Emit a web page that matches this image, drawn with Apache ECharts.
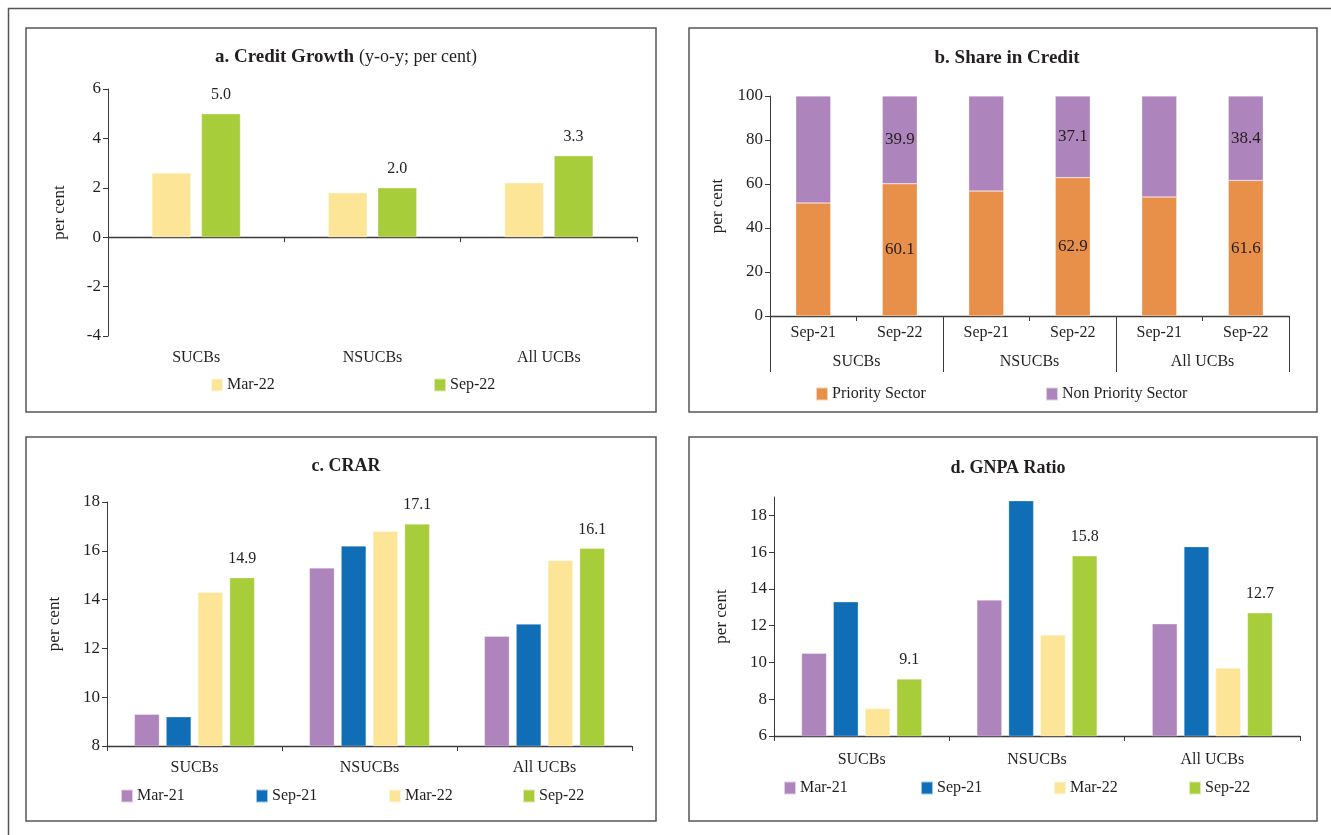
<!DOCTYPE html>
<html>
<head>
<meta charset="utf-8">
<script src="https://cdn.jsdelivr.net/npm/echarts@6/dist/echarts.min.js"></script>
<style>
html,body{margin:0;padding:0;background:#fff;}
#c{width:1331px;height:835px;}
</style>
</head>
<body>
<div id="c"></div>
<script>
// ---- data ----
const groups = ['SUCBs', 'NSUCBs', 'All UCBs'];
const creditMar22 = [2.6, 1.8, 2.2];
const creditSep22 = [5.0, 2.0, 3.3];

const shareCats = ['Sep-21', 'Sep-22', 'Sep-21', 'Sep-22', 'Sep-21', 'Sep-22'];
const priority = [51.4, 60.1, 56.8, 62.9, 54.1, 61.6];
const nonPriority = [48.6, 39.9, 43.2, 37.1, 45.9, 38.4];

const crarMar21 = [9.3, 15.3, 12.5];
const crarSep21 = [9.2, 16.2, 13.0];
const crarMar22 = [14.3, 16.8, 15.6];
const crarSep22 = [14.9, 17.1, 16.1];

const gnpaMar21 = [10.5, 13.4, 12.1];
const gnpaSep21 = [13.3, 18.8, 16.3];
const gnpaMar22 = [7.5, 11.5, 9.7];
const gnpaSep22 = [9.1, 15.8, 12.7];

// ---- styles ----
const FONT = 'Liberation Serif';
const TXT = '#231f20';
const AX = '#3a3a3a';
const C = {mar21: '#ae84bc', sep21: '#106eb6', mar22: '#fde598', sep22: '#a8cd3a', pri: '#e88f4a', non: '#ae84bc'};

const chart = echarts.init(document.getElementById('c'), null, {renderer: 'canvas'});

function yAx(grid, min, max, interval, gap) {
  return {
    type: 'value', gridIndex: grid, min: min, max: max, interval: interval,
    axisLine: {show: true, lineStyle: {color: AX, width: 1}},
    axisTick: {show: true, length: 5, lineStyle: {color: AX}},
    axisLabel: {fontFamily: FONT, fontSize: 17, color: TXT, margin: 7, showMaxLabel: max % interval === 0},
    splitLine: {show: false},
    name: 'per cent', nameLocation: 'middle', nameRotate: 90, nameGap: gap,
    nameTextStyle: {fontFamily: FONT, fontSize: 17, color: TXT}
  };
}
function xLine(grid) {
  return {
    type: 'category', gridIndex: grid, data: groups,
    axisLine: {show: true, onZero: true, lineStyle: {color: AX, width: 1.3}},
    axisTick: {show: true, length: 5, inside: false, lineStyle: {color: AX}},
    axisLabel: {show: false}
  };
}
function xLab(grid, margin) {
  return {
    type: 'category', gridIndex: grid, data: groups, position: 'bottom',
    axisLine: {show: false, onZero: false}, axisTick: {show: false},
    axisLabel: {show: true, fontFamily: FONT, fontSize: 16, color: TXT, margin: margin}
  };
}
function topLabel() {
  return {show: true, position: 'top', distance: 11, fontFamily: FONT, fontSize: 16, color: TXT,
    formatter: p => p.value.toFixed(1)};
}
function bar(name, data, color, xi, yi, width, labelOn) {
  return {
    type: 'bar', name: name, data: data, xAxisIndex: xi, yAxisIndex: yi,
    barWidth: width, barGap: '27%',
    itemStyle: {color: color, borderColor: 'rgba(255,255,255,0.6)', borderWidth: 0.5},
    label: labelOn ? topLabel() : {show: false},
    emphasis: {disabled: true}, animation: false
  };
}
function leg(name, left, top) {
  return {
    data: [name], left: left, top: top, icon: 'rect', itemWidth: 12, itemHeight: 13, itemGap: 5,
    textStyle: {fontFamily: FONT, fontSize: 16, color: TXT, padding: [0, 0, 0, -1]},
    selectedMode: false
  };
}

const option = {
  backgroundColor: '#fff',
  animation: false,
  title: [
    {text: '{b|a. Credit Growth} {n|(y-o-y; per cent)}', left: 341, top: 43, textAlign: 'center',
     textStyle: {rich: {b: {fontFamily: FONT, fontSize: 19, fontWeight: 'bold', color: TXT},
                        n: {fontFamily: FONT, fontSize: 18, fontWeight: 'normal', color: TXT}}}},
    {text: 'b. Share in Credit', left: 1002, top: 44, textAlign: 'center',
     textStyle: {fontFamily: FONT, fontSize: 19, fontWeight: 'bold', color: TXT}},
    {text: 'c. CRAR', left: 341, top: 452, textAlign: 'center',
     textStyle: {fontFamily: FONT, fontSize: 18, fontWeight: 'bold', color: TXT}},
    {text: 'd. GNPA Ratio', left: 1003, top: 454, textAlign: 'center',
     textStyle: {fontFamily: FONT, fontSize: 18, fontWeight: 'bold', color: TXT}}
  ],
  legend: [
    leg('Mar-22', 205, 372), leg('Sep-22', 428, 372),
    leg('Priority Sector', 810, 381), leg('Non Priority Sector', 1040, 381),
    leg('Mar-21', 115, 783), leg('Sep-21', 250, 783), leg('Mar-22', 383, 783), leg('Sep-22', 517, 783),
    leg('Mar-21', 778, 775), leg('Sep-21', 915, 775), leg('Mar-22', 1048, 775), leg('Sep-22', 1183, 775)
  ],
  grid: [
    {left: 108, right: 694, top: 89, bottom: 499},
    {left: 770, right: 42, top: 96, bottom: 519},
    {left: 107, right: 699, top: 502, bottom: 89},
    {left: 774, right: 31, top: 497, bottom: 99}
  ],
  xAxis: [
    xLine(0),                                 // 0
    xLab(0, 14),                              // 1  (labels at bottom of grid a)
    {                                         // 2 panel b subcategories
      type: 'category', gridIndex: 1, data: shareCats,
      axisLine: {show: true, lineStyle: {color: AX, width: 1.3}},
      axisTick: {show: true, length: 5, interval: 0, lineStyle: {color: AX}},
      axisLabel: {fontFamily: FONT, fontSize: 16, color: TXT, margin: 9, interval: 0}
    },
    {                                         // 3 panel b groups
      type: 'category', gridIndex: 1, data: groups, position: 'bottom',
      axisLine: {show: false},
      axisTick: {show: true, length: 56, interval: 0, lineStyle: {color: AX}},
      axisLabel: {fontFamily: FONT, fontSize: 16, color: TXT, margin: 38, interval: 0}
    },
    Object.assign(xLine(2), {axisLabel: {show: true, fontFamily: FONT, fontSize: 16, color: TXT, margin: 14}}), // 4
    Object.assign(xLine(3), {axisLabel: {show: true, fontFamily: FONT, fontSize: 16, color: TXT, margin: 16}})  // 5
  ],
  yAxis: [
    yAx(0, -4, 6, 2, 40),
    yAx(1, 0, 100, 20, 44),
    yAx(2, 8, 18, 2, 44),
    yAx(3, 6, 19, 2, 44)
  ],
  series: [
    bar('Mar-22', creditMar22, C.mar22, 0, 0, 39, false),
    bar('Sep-22', creditSep22, C.sep22, 0, 0, 39, true),
    {
      type: 'bar', name: 'Priority Sector', data: priority, xAxisIndex: 2, yAxisIndex: 1, stack: 's',
      barWidth: 35, itemStyle: {color: C.pri, borderColor: 'rgba(255,255,255,0.6)', borderWidth: 0.5},
      label: {show: true, position: 'inside', fontFamily: FONT, fontSize: 17, color: TXT,
              formatter: p => p.dataIndex % 2 === 1 ? p.value.toFixed(1) : ''},
      emphasis: {disabled: true}
    },
    {
      type: 'bar', name: 'Non Priority Sector', data: nonPriority, xAxisIndex: 2, yAxisIndex: 1, stack: 's',
      barWidth: 35, itemStyle: {color: C.non, borderColor: 'rgba(255,255,255,0.6)', borderWidth: 0.5},
      label: {show: true, position: 'inside', fontFamily: FONT, fontSize: 17, color: TXT,
              formatter: p => p.dataIndex % 2 === 1 ? p.value.toFixed(1) : ''},
      emphasis: {disabled: true}
    },
    bar('Mar-21', crarMar21, C.mar21, 4, 2, 25, false),
    bar('Sep-21', crarSep21, C.sep21, 4, 2, 25, false),
    bar('Mar-22', crarMar22, C.mar22, 4, 2, 25, false),
    bar('Sep-22', crarSep22, C.sep22, 4, 2, 25, true),
    bar('Mar-21', gnpaMar21, C.mar21, 5, 3, 25, false),
    bar('Sep-21', gnpaSep21, C.sep21, 5, 3, 25, false),
    bar('Mar-22', gnpaMar22, C.mar22, 5, 3, 25, false),
    bar('Sep-22', gnpaSep22, C.sep22, 5, 3, 25, true)
  ],
  graphic: [
    {type: 'polyline', shape: {points: [[8.5, 835], [8.5, 8.5], [1331, 8.5]]}, style: {stroke: '#555', lineWidth: 1.5, fill: null}, silent: true},
    {type: 'rect', shape: {x: 26, y: 28, width: 630, height: 384}, style: {stroke: '#555', lineWidth: 1.5, fill: null}, silent: true},
    {type: 'rect', shape: {x: 689, y: 28, width: 628, height: 384}, style: {stroke: '#555', lineWidth: 1.5, fill: null}, silent: true},
    {type: 'rect', shape: {x: 26, y: 437, width: 630, height: 384}, style: {stroke: '#555', lineWidth: 1.5, fill: null}, silent: true},
    {type: 'rect', shape: {x: 689, y: 437, width: 628, height: 384}, style: {stroke: '#555', lineWidth: 1.5, fill: null}, silent: true}
  ]
};
chart.setOption(option);
</script>
</body>
</html>
